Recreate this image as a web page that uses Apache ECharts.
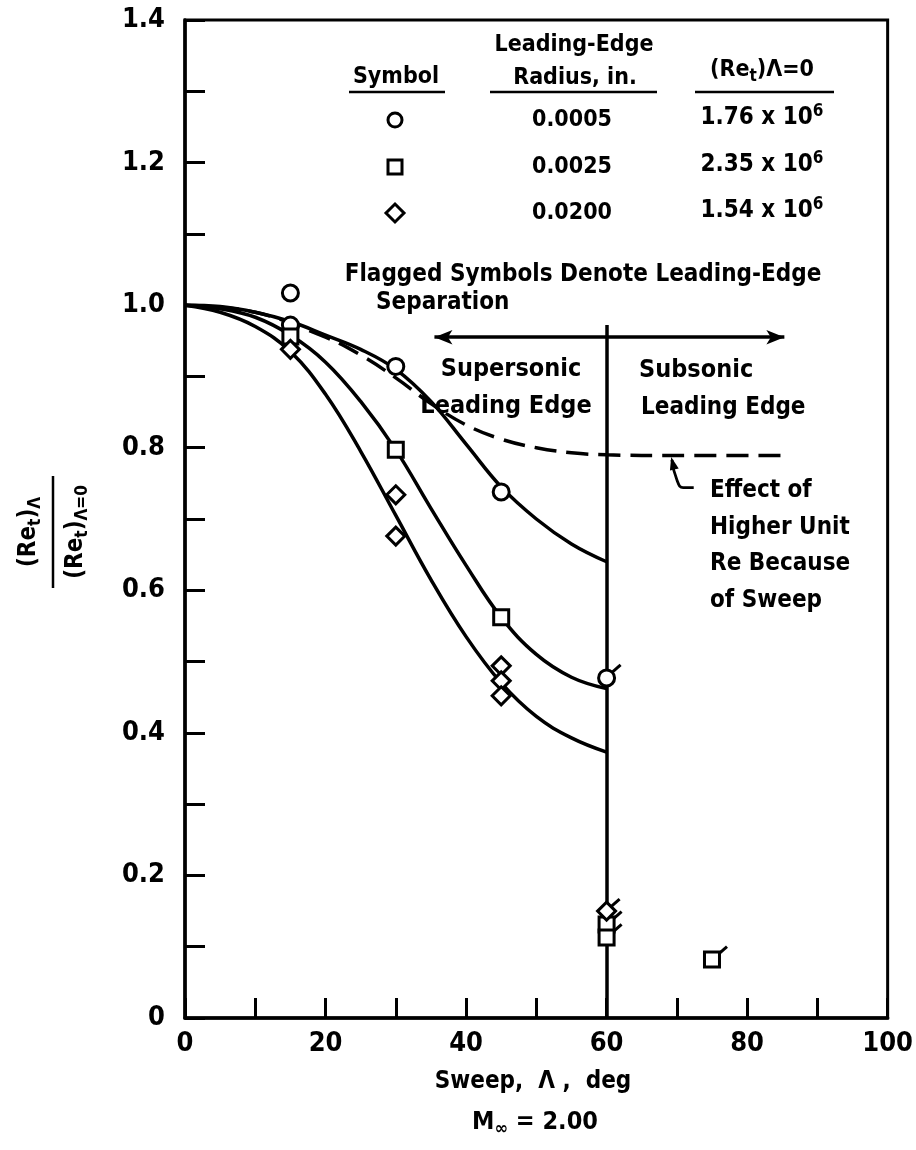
<!DOCTYPE html>
<html><head><meta charset="utf-8">
<script src="https://cdn.jsdelivr.net/npm/echarts@6/dist/echarts.min.js"></script>
<style>html,body{margin:0;padding:0;background:#fff}#c{width:916px;height:1150px}</style>
</head><body><div id="c"></div>
<script>
const FONT = "'DejaVu Sans Condensed', 'DejaVu Sans', sans-serif";

// ---- axis ranges / ticks ----
const xRange = [0, 100];
const yRange = [0, 1.4];

// ---- data points (Sweep, deg ; Ret ratio) ----
const circleSweep = [15, 15, 30, 45, 60];
const circleRatio = [1.017, 0.972, 0.914, 0.738, 0.477];
const circleFlag  = [0, 0, 0, 0, 1];

const squareSweep = [15, 30, 45, 60, 60, 75];
const squareRatio = [0.956, 0.797, 0.562, 0.131, 0.113, 0.082];
const squareFlag  = [0, 0, 0, 1, 1, 1];

const diamondSweep = [15, 30, 30, 45, 45, 45, 60];
const diamondRatio = [0.938, 0.734, 0.676, 0.494, 0.473, 0.452, 0.150];
const diamondFlag  = [0, 0, 0, 0, 0, 0, 1];

// ---- faired curves ----
const fitSweep   = [0, 5, 10, 15, 20, 25, 30, 35, 40, 45, 50, 55, 60];
const fitCircle  = [1.0, 0.998, 0.99, 0.977, 0.958, 0.938, 0.91, 0.865, 0.805, 0.745, 0.70, 0.665, 0.64];
const fitSquare  = [1.0, 0.995, 0.983, 0.958, 0.92, 0.865, 0.797, 0.715, 0.635, 0.562, 0.51, 0.478, 0.462];
const fitDiamond = [1.0, 0.99, 0.97, 0.935, 0.875, 0.795, 0.705, 0.615, 0.535, 0.47, 0.423, 0.393, 0.373];

// dashed "effect of higher unit Re" curve
const dashSweep = [0, 10, 20, 25, 30, 35, 40, 45, 50, 55, 60, 70, 85];
const dashRatio = [1.0, 0.99, 0.955, 0.93, 0.898, 0.862, 0.832, 0.812, 0.80, 0.793, 0.79, 0.789, 0.789];

// regime boundary and arrow
const boundarySweep = 60;
const boundaryTop = 0.972;
const arrowSpan = [35.5, 85.3];
const arrowLevel = 0.955;

// leader for "Effect of..." note
const leaderSweep = [69.3, 70.0, 70.9, 72.4];
const leaderRatio = [0.783, 0.755, 0.744, 0.744];

// legend table text
const legendRadius = ['0.0005', '0.0025', '0.0200'];
const legendRe = ['1.76', '2.35', '1.54'];

const zip = (a, b) => a.map((v, i) => [v, b[i]]);
const flagged = (xs, ys, fs, kind) => xs.map((v, i) => fs[i] ? [v, ys[i], kind] : null).filter(Boolean);

const chart = echarts.init(document.getElementById('c'), null, {renderer: 'canvas'});

const markerStyle = {color: '#fff', borderColor: '#000', borderWidth: 3, opacity: 1};
const curveStyle = {color: '#000', width: 3.5};

const flagData = [].concat(
  flagged(circleSweep, circleRatio, circleFlag, 0),
  flagged(squareSweep, squareRatio, squareFlag, 1),
  flagged(diamondSweep, diamondRatio, diamondFlag, 2)
);

const T = (text, x, y, size, align) => ({
  type: 'text', x: x, y: y, z: 100,
  style: {text: text, font: 'bold ' + size + 'px ' + FONT, fill: '#000',
    textAlign: align || 'center', align: align || 'center', textVerticalAlign: 'middle', verticalAlign: 'middle'}
});

const richBase = (size) => ({
  a: {font: 'bold ' + size + 'px ' + FONT, color: '#000'},
  s: {font: 'bold ' + Math.round(size * 0.72) + 'px ' + FONT, color: '#000', padding: [Math.round(size * 0.55), 0, 0, 0]},
  p: {font: 'bold ' + Math.round(size * 0.72) + 'px ' + FONT, color: '#000', padding: [0, 0, Math.round(size * 0.55), 0]}
});
const R = (text, x, y, size) => ({type: 'text', x: x, y: y, z: 100, style: {
  text: text, rich: richBase(size), textAlign: 'center', align: 'center', textVerticalAlign: 'middle', verticalAlign: 'middle'}});

const graphics = [];
// legend table headers
graphics.push(T('Leading-Edge', 574, 45, 23));
graphics.push(T('Symbol', 396, 77, 23));
graphics.push(T('Radius, in.', 575, 78, 23));
graphics.push(R('{a|(Re}{s|t}{a|)Λ=0}', 762, 70, 23));
[[349, 445], [490, 657], [695, 834]].forEach(u => graphics.push({type: 'line', z: 100,
  shape: {x1: u[0], y1: 92, x2: u[1], y2: 92}, style: {stroke: '#000', lineWidth: 2.5}}));
const rowsY = [120, 167, 213];
graphics.push({type: 'circle', z: 100, shape: {cx: 395, cy: rowsY[0], r: 7}, style: {fill: '#fff', stroke: '#000', lineWidth: 3}});
graphics.push({type: 'rect', z: 100, shape: {x: 388, y: rowsY[1] - 7, width: 14, height: 14}, style: {fill: '#fff', stroke: '#000', lineWidth: 3}});
graphics.push({type: 'polygon', z: 100, shape: {points: [[395, rowsY[2] - 9], [404, rowsY[2]], [395, rowsY[2] + 9], [386, rowsY[2]]]}, style: {fill: '#fff', stroke: '#000', lineWidth: 3}});
legendRadius.forEach((r, i) => graphics.push(T(r, 572, rowsY[i], 23)));
legendRe.forEach((r, i) => graphics.push(R('{a|' + r + ' x 10}{p|6}', 762, rowsY[i] - 2, 24)));
graphics.push(T('Flagged Symbols Denote Leading-Edge', 583, 275, 24));
graphics.push(T('Separation', 376, 303, 24, 'left'));
// regime labels
graphics.push(T('Supersonic', 511, 369, 25));
graphics.push(T('Leading Edge', 506, 406, 25));
graphics.push(T('Subsonic', 639, 370, 25, 'left'));
graphics.push(T('Leading Edge', 641, 408, 24, 'left'));
['Effect of', 'Higher Unit', 'Re Because', 'of Sweep'].forEach((s, i) => graphics.push(T(s, 710, 491 + i * 36.5, 24, 'left')));
// x-axis titles
graphics.push(T('Sweep,  Λ ,  deg', 533, 1082, 24));
graphics.push(R('{a|M}{s|∞}{a| = 2.00}', 535, 1122, 25));
// y-axis title (rotated fraction)
graphics.push({type: 'group', x: 53, y: 532, rotation: Math.PI / 2, z: 100, children: [
  {type: 'text', x: 0, y: -24, style: {text: '{a|(Re}{s|t}{a|)}{s|Λ}', rich: richBase(24), textAlign: 'center', align: 'center', textVerticalAlign: 'middle', verticalAlign: 'middle'}},
  {type: 'line', shape: {x1: -56, y1: 0, x2: 56, y2: 0}, style: {stroke: '#000', lineWidth: 2.5}},
  {type: 'text', x: 0, y: 23, style: {text: '{a|(Re}{s|t}{a|)}{s|Λ=0}', rich: richBase(24), textAlign: 'center', align: 'center', textVerticalAlign: 'middle', verticalAlign: 'middle'}}
]});

const option = {
  animation: false,
  backgroundColor: '#fff',
  grid: {left: 185, right: 24, top: 20, bottom: 132, show: true, borderColor: '#000', borderWidth: 3, backgroundColor: 'transparent'},
  xAxis: {
    type: 'value', min: xRange[0], max: xRange[1], interval: 10,
    axisLine: {lineStyle: {color: '#000', width: 3.5}},
    axisTick: {inside: true, length: 20, lineStyle: {color: '#000', width: 3}},
    splitLine: {show: false},
    axisLabel: {margin: 12, color: '#000', fontFamily: FONT, fontWeight: 'bold', fontSize: 27,
      formatter: v => (Math.round(v) % 20 === 0 ? String(Math.round(v)) : '')}
  },
  yAxis: {
    type: 'value', min: yRange[0], max: yRange[1], interval: 0.1,
    axisLine: {lineStyle: {color: '#000', width: 3.5}},
    axisTick: {inside: true, length: 20, lineStyle: {color: '#000', width: 3}},
    splitLine: {show: false},
    axisLabel: {margin: 20, color: '#000', fontFamily: FONT, fontWeight: 'bold', fontSize: 27,
      formatter: v => { const k = Math.round(v * 10); if (k % 2) return ''; return k === 0 ? '0' : (k / 10).toFixed(1); }}
  },
  graphic: graphics,
  series: [
    {type: 'line', data: zip(fitSweep, fitCircle), smooth: 0.4, symbol: 'none', lineStyle: curveStyle, z: 3},
    {type: 'line', data: zip(fitSweep, fitSquare), smooth: 0.4, symbol: 'none', lineStyle: curveStyle, z: 3},
    {type: 'line', data: zip(fitSweep, fitDiamond), smooth: 0.4, symbol: 'none', lineStyle: curveStyle, z: 3},
    {type: 'line', data: zip(dashSweep, dashRatio), smooth: 0.4, symbol: 'none', lineStyle: {color: '#000', width: 3.5, type: [22, 10]}, z: 3},
    {type: 'line', data: [], z: 4,
      markLine: {silent: true, symbol: ['none', 'none'], label: {show: false}, lineStyle: {color: '#000', width: 3.5, type: 'solid'},
        data: [
          [{coord: [boundarySweep, 0]}, {coord: [boundarySweep, boundaryTop]}],
          [{coord: [arrowSpan[0], arrowLevel], symbol: 'arrow', symbolSize: [11, 18]}, {coord: [arrowSpan[1], arrowLevel], symbol: 'arrow', symbolSize: [11, 18]}]
        ]}},
    {type: 'line', data: zip(leaderSweep, leaderRatio), smooth: 0.5, symbol: 'none', lineStyle: {color: '#000', width: 2.8}, z: 4},
    {type: 'custom', z: 5, data: [[leaderSweep[0], leaderRatio[0], leaderSweep[1], leaderRatio[1]]],
      renderItem: (params, api) => {
        const a = api.coord([api.value(0), api.value(1)]);
        const b = api.coord([api.value(2), api.value(3)]);
        const dx = a[0] - b[0], dy = a[1] - b[1], L = Math.hypot(dx, dy);
        const ux = dx / L, uy = dy / L, nx = -uy, ny = ux;
        const tip = [a[0] + ux * 3, a[1] + uy * 3];
        const base = [tip[0] - ux * 13, tip[1] - uy * 13];
        return {type: 'polygon', shape: {points: [tip, [base[0] + nx * 4.5, base[1] + ny * 4.5], [base[0] - nx * 4.5, base[1] - ny * 4.5]]}, style: {fill: '#000'}};
      }},
    {type: 'scatter', data: zip(circleSweep, circleRatio), symbol: 'circle', symbolSize: 16, itemStyle: markerStyle, z: 6},
    {type: 'scatter', data: zip(squareSweep, squareRatio), symbol: 'rect', symbolSize: 15, itemStyle: markerStyle, z: 6},
    {type: 'scatter', data: zip(diamondSweep, diamondRatio), symbol: 'diamond', symbolSize: 18, itemStyle: markerStyle, z: 7},
    {type: 'custom', z: 8, data: flagData,
      renderItem: (params, api) => {
        const p = api.coord([api.value(0), api.value(1)]);
        const k = api.value(2);
        const s = k === 0 ? [6, -6] : (k === 1 ? [7, -6] : [5, -5]);
        return {type: 'line', shape: {x1: p[0] + s[0], y1: p[1] + s[1], x2: p[0] + s[0] + 8, y2: p[1] + s[1] - 7},
          style: {stroke: '#000', lineWidth: 3}};
      }}
  ]
};
chart.setOption(option);
</script></body></html>
